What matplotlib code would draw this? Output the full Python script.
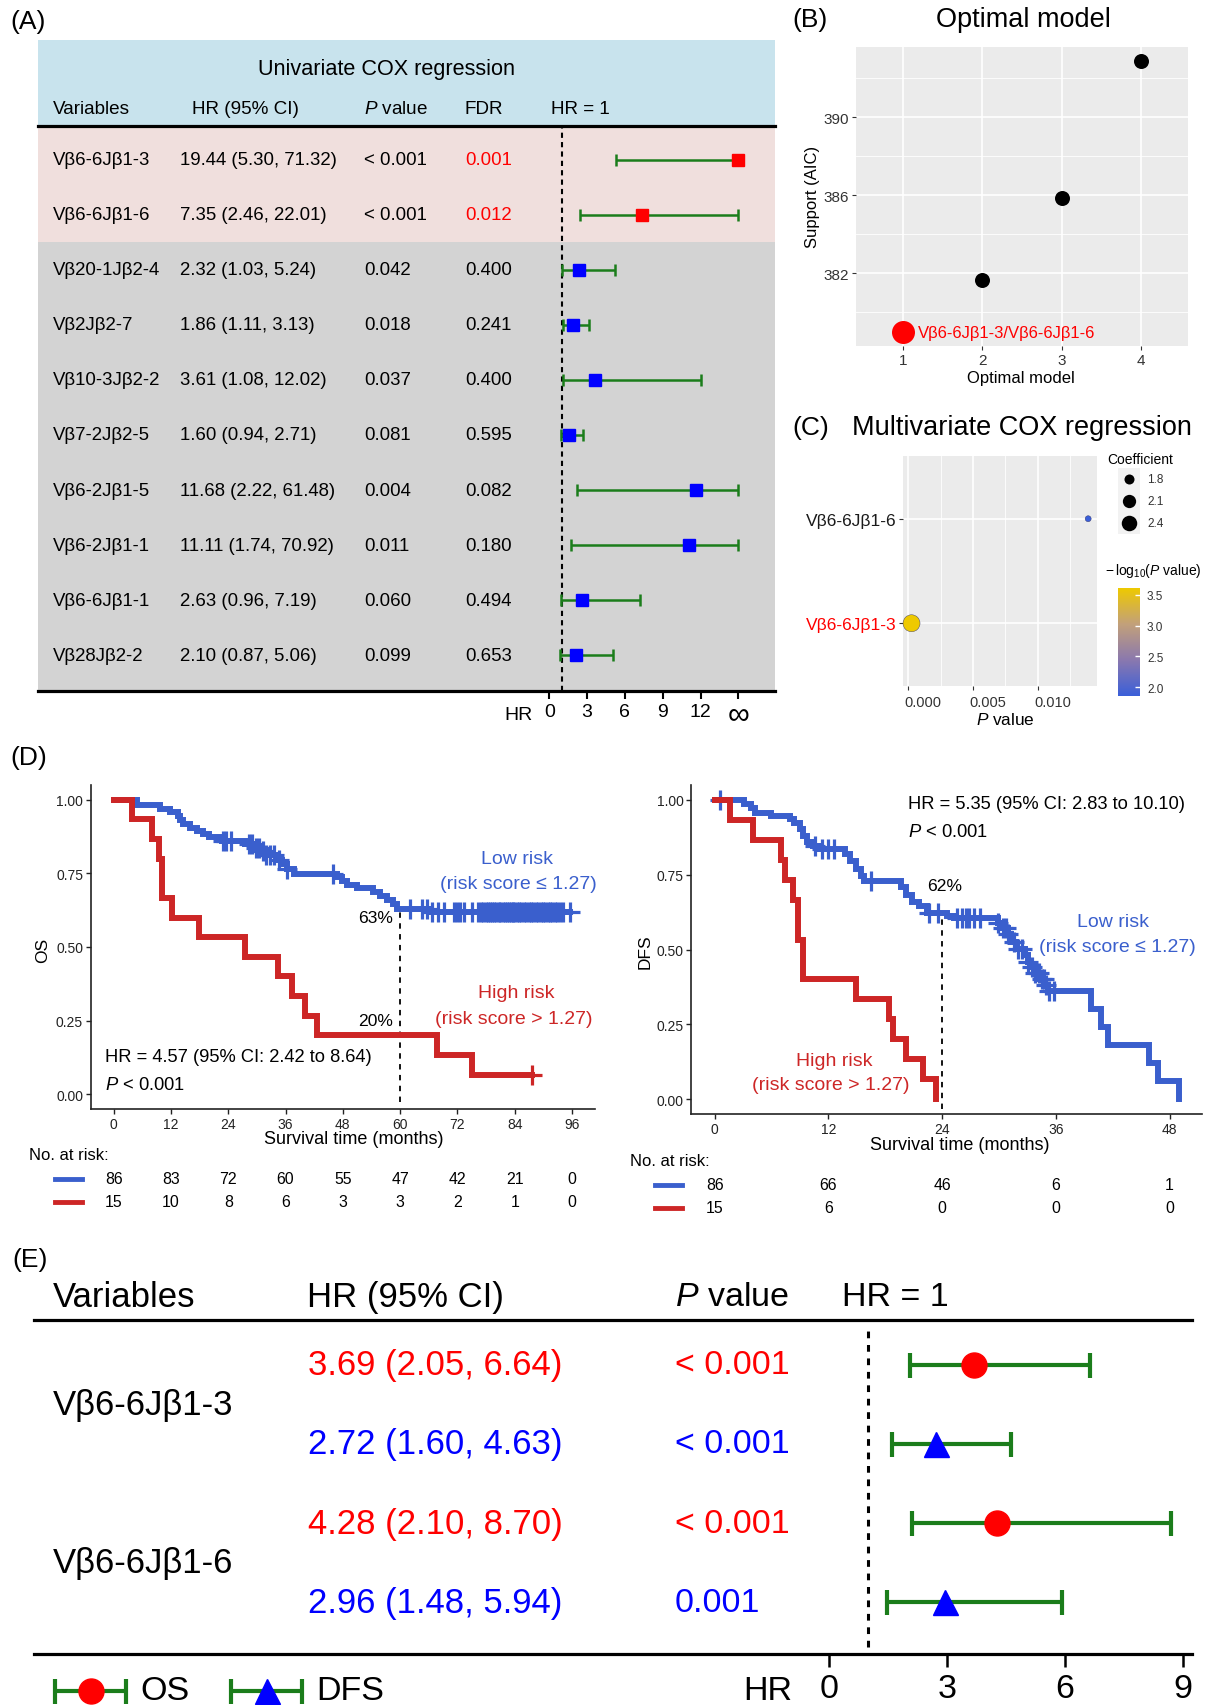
import numpy as np
import matplotlib
matplotlib.use('Agg')
import matplotlib.pyplot as plt
from matplotlib.colors import LinearSegmentedColormap, Normalize
from matplotlib.lines import Line2D
import matplotlib.transforms as mtransforms

plt.rcParams['font.family'] = ['Liberation Sans', 'DejaVu Sans']
plt.rcParams['mathtext.fontset'] = 'custom'
plt.rcParams['mathtext.rm'] = 'Liberation Sans'
plt.rcParams['mathtext.it'] = 'Liberation Sans:italic'
plt.rcParams['mathtext.bf'] = 'Liberation Sans:bold'

# ---------------- data ----------------
# (A) univariate Cox
a_vars = ['Vβ6-6Jβ1-3', 'Vβ6-6Jβ1-6', 'Vβ20-1Jβ2-4', 'Vβ2Jβ2-7', 'Vβ10-3Jβ2-2',
          'Vβ7-2Jβ2-5', 'Vβ6-2Jβ1-5', 'Vβ6-2Jβ1-1', 'Vβ6-6Jβ1-1', 'Vβ28Jβ2-2']
a_hr = [19.44, 7.35, 2.32, 1.86, 3.61, 1.60, 11.68, 11.11, 2.63, 2.10]
a_lo = [5.30, 2.46, 1.03, 1.11, 1.08, 0.94, 2.22, 1.74, 0.96, 0.87]
a_hi = [71.32, 22.01, 5.24, 3.13, 12.02, 2.71, 61.48, 70.92, 7.19, 5.06]
a_p = ['< 0.001', '< 0.001', '0.042', '0.018', '0.037', '0.081', '0.004', '0.011', '0.060', '0.099']
a_fdr = [0.001, 0.012, 0.400, 0.241, 0.400, 0.595, 0.082, 0.180, 0.494, 0.653]
a_ticks = [0, 3, 6, 9, 12, 15]
a_ticklabels = ['0', '3', '6', '9', '12', '∞']

# (B) optimal model
b_model = [1, 2, 3, 4]
b_aic = [378.95, 381.65, 385.84, 392.91]
b_label = 'Vβ6-6Jβ1-3/Vβ6-6Jβ1-6'

# (C) multivariate Cox
c_vars = ['Vβ6-6Jβ1-3', 'Vβ6-6Jβ1-6']
c_p = [0.000245, 0.0139]
c_coef = [2.65, 1.67]
c_xticks = [0.0, 0.005, 0.010]
c_xticklabels = ['0.000', '0.005', '0.010']
c_size_breaks = [1.8, 2.1, 2.4]
c_color_breaks = [2.0, 2.5, 3.0, 3.5]

# (D) Kaplan-Meier, OS
os_ticks = [0, 12, 24, 36, 48, 60, 72, 84, 96]
os_low_t = [0, 4.9, 9.8, 11.9, 13.4, 14.0, 14.6, 16.0, 17.4, 18.8, 19.9, 22.7, 27.5, 29.3, 30.7,
            31.7, 34.2, 35.2, 36.3, 37.7, 46.8, 47.8, 48.8, 50.9, 54.4, 55.8, 57.2, 58.6, 59.3, 66.0]
os_low_s = [1.0, 0.983, 0.970, 0.957, 0.944, 0.930, 0.917, 0.905, 0.895, 0.885, 0.874, 0.859, 0.848,
            0.836, 0.825, 0.813, 0.797, 0.781, 0.765, 0.749, 0.737, 0.724, 0.712, 0.700, 0.686,
            0.673, 0.660, 0.645, 0.630, 0.618]
os_low_c = [23.0, 23.5, 24.5, 28.3, 29.0, 29.8, 30.4, 31.2, 32.0, 32.8, 33.6, 34.6, 36.3, 46.0,
            62.0, 64.5, 65.6, 66.6, 68.0, 69.1, 71.2, 71.9, 72.6, 73.4, 75.0, 76.4, 76.9, 77.4,
            77.9, 78.3, 78.8, 79.2, 79.7, 80.1, 80.6, 81.0, 81.5, 81.9, 82.3, 82.8, 83.2, 83.6,
            83.9, 84.4, 84.9, 85.4, 85.9, 86.4, 86.9, 87.4, 87.9, 88.4, 88.9, 89.4, 89.9, 90.4,
            90.9, 91.4, 91.9, 92.4, 92.9, 93.4, 94.0, 95.5]
os_high_t = [0, 3.8, 8.0, 9.4, 10.1, 12.3, 17.8, 27.5, 34.5, 37.3, 40.1, 42.6, 67.7, 75.0]
os_high_s = [1.0, 0.933, 0.867, 0.800, 0.667, 0.600, 0.533, 0.467, 0.400, 0.333, 0.267, 0.200,
             0.133, 0.067]
os_high_c = [87.6]
os_risk_low = [86, 83, 72, 60, 55, 47, 42, 21, 0]
os_risk_high = [15, 10, 8, 6, 3, 3, 2, 1, 0]

# (D) Kaplan-Meier, DFS
dfs_ticks = [0, 12, 24, 36, 48]
dfs_low_t = [0, 3.1, 3.8, 4.3, 5.9, 7.9, 8.4, 9.0, 9.3, 9.7, 10.4, 11.0, 13.8, 14.3, 14.9, 15.4,
             15.8, 19.7, 20.2, 20.8, 21.6, 22.4, 24.5, 25.2, 29.9, 30.2, 30.9, 31.3, 31.8, 32.7,
             33.1, 33.4, 33.8, 34.3, 34.9, 35.2, 39.7, 40.8, 41.5, 45.8, 46.8, 49.0]
dfs_low_s = [1.0, 0.986, 0.972, 0.958, 0.947, 0.936, 0.924, 0.903, 0.880, 0.858, 0.846, 0.835,
             0.820, 0.797, 0.770, 0.745, 0.730, 0.708, 0.683, 0.660, 0.645, 0.622, 0.612, 0.605,
             0.590, 0.573, 0.551, 0.525, 0.502, 0.480, 0.458, 0.440, 0.422, 0.400, 0.380, 0.362,
             0.300, 0.240, 0.180, 0.122, 0.060, 0.0]
dfs_low_c = [0.6, 10.6, 11.3, 12.0, 12.6, 16.5, 22.6, 23.6, 25.6, 26.1, 26.5, 26.8, 27.4, 28.0,
             29.9, 30.4, 30.7, 31.0, 31.6, 32.0, 32.4, 33.1, 33.5, 33.8, 34.2, 34.5, 34.7, 35.0,
             35.3, 35.8]
dfs_high_t = [0, 1.65, 4.0, 7.0, 7.4, 8.3, 8.8, 9.3, 14.9, 18.4, 18.8, 20.2, 22.0, 23.4]
dfs_high_s = [1.0, 0.933, 0.867, 0.800, 0.733, 0.667, 0.533, 0.400, 0.333, 0.267, 0.200, 0.133,
              0.067, 0.0]
dfs_high_c = []
dfs_risk_low = [86, 66, 46, 6, 1]
dfs_risk_high = [15, 6, 0, 0, 0]

# (E) Cox for OS / DFS
e_vars = ['Vβ6-6Jβ1-3', 'Vβ6-6Jβ1-6']
e_endpoint = ['OS', 'DFS', 'OS', 'DFS']
e_hr = [3.69, 2.72, 4.28, 2.96]
e_lo = [2.05, 1.60, 2.10, 1.48]
e_hi = [6.64, 4.63, 8.70, 5.94]
e_p = ['< 0.001', '< 0.001', '< 0.001', '0.001']
e_ticks = [0, 3, 6, 9]

# ---------------- figure helpers ----------------
W, H = 1210, 1706
DPI = 100
fig = plt.figure(figsize=(W / DPI, H / DPI), dpi=DPI)
PX = 72.0 / DPI  # points per pixel


def pax(x0, y0, x1, y1):
    return fig.add_axes([x0 / W, 1 - y1 / H, (x1 - x0) / W, (y1 - y0) / H])


def ftext(x, y, s, **kw):
    kw.setdefault('va', 'center')
    return fig.text(x / W, 1 - y / H, s, **kw)


def fline(x0, x1, y, **kw):
    fig.add_artist(Line2D([x0 / W, x1 / W], [1 - y / H, 1 - y / H],
                          transform=fig.transFigure, **kw))


RED = '#FF0000'
BLUE = '#0000FF'
GREEN = '#1B7D1B'
KM_BLUE = '#3A5FCD'
KM_RED = '#CD2626'
LBL = 19

# ---------------- (A) ----------------
ftext(10, 22, '(A)', fontsize=LBL)
row0, rowd = 160.5, 55.1


def rowpos(y):
    return (y - row0) / rowd


ta = pax(37.5, 40.7, 775, 691.7)
ta.set_xlim(37.5, 775)
ta.set_ylim(rowpos(691.7), rowpos(40.7))
ta.axis('off')
n_sig = sum(1 for f in a_fdr if f < 0.05)
ta.axhspan(rowpos(40.7), rowpos(126.7), color='#C8E3ED', lw=0)
ta.axhspan(rowpos(126.7), n_sig - 0.5, color='#F0DFDD', lw=0)
ta.axhspan(n_sig - 0.5, rowpos(691.7), color='#D3D3D3', lw=0)
ta.axhline(rowpos(126.7), color='black', lw=2.3, clip_on=False)
ta.axhline(rowpos(691.7), color='black', lw=2.3, clip_on=False)
ta.text(386, rowpos(70), 'Univariate COX regression', ha='center', va='center', fontsize=15.6)
hy = rowpos(110)
HFS = 13.6
ta.text(52.5, hy, 'Variables', va='center', fontsize=HFS)
ta.text(192, hy, 'HR (95% CI)', va='center', fontsize=HFS)
ta.text(364, hy, '$P$ value', va='center', fontsize=HFS)
ta.text(465, hy, 'FDR', va='center', fontsize=HFS)
ta.text(551, hy, 'HR = 1', va='center', fontsize=HFS)
DFS_ = 13.4
for i in range(len(a_vars)):
    ta.text(52.5, i, a_vars[i], va='center', fontsize=DFS_)
    ta.text(180, i, f'{a_hr[i]:.2f} ({a_lo[i]:.2f}, {a_hi[i]:.2f})', va='center', fontsize=DFS_)
    ta.text(364, i, a_p[i], va='center', fontsize=DFS_)
    ta.text(465, i, f'{a_fdr[i]:.3f}', va='center', fontsize=DFS_,
            color=RED if a_fdr[i] < 0.05 else 'black')

fa = pax(520, 126.7, 775, 691.7)
fa.set_facecolor('none')
fa.set_xlim((520 - 549.3) / 12.6, (775 - 549.3) / 12.6)
fa.set_ylim(rowpos(691.7), rowpos(126.7))
for s in fa.spines.values():
    s.set_visible(False)
fa.set_yticks([])
fa.set_xticks(a_ticks)
fa.set_xticklabels([lab if lab != '∞' else '' for lab in a_ticklabels], fontsize=14)
fa.tick_params(axis='x', direction='out', length=6, width=1.5, pad=3)
trA = mtransforms.blended_transform_factory(fa.transData, fig.transFigure)
for t, lab in zip(a_ticks, a_ticklabels):
    if lab == '∞':
        fa.text(t, 1 - 723 / H, lab, transform=trA, ha='center', va='baseline', fontsize=22)
fa.axvline(1, color='black', lw=1.5, dashes=(2.5, 2))
INF = a_ticks[-1]
for i in range(len(a_vars)):
    x = min(a_hr[i], INF)
    lo = a_lo[i]
    hi = min(a_hi[i], INF)
    col = RED if a_fdr[i] < 0.05 else BLUE
    fa.errorbar(x, i, xerr=[[x - lo], [hi - x]], fmt='none', ecolor=GREEN,
                elinewidth=1.8, capsize=4.3, capthick=1.8, zorder=2)
    fa.plot(x, i, 's', ms=8.8, color=col, mec=col, zorder=3, clip_on=False)
ftext(518, 715, 'HR', ha='center', fontsize=14)

# ---------------- (B) ----------------
ftext(792, 20, '(B)', fontsize=LBL)
ftext(1023, 20, 'Optimal model', ha='center', fontsize=19.5)
bx = pax(856, 48, 1188, 347)
bx.set_facecolor('#EBEBEB')
for s in bx.spines.values():
    s.set_visible(False)
bx.set_xlim(0.4, 4.6)
rng = max(b_aic) - min(b_aic)
bx.set_ylim(min(b_aic) - 0.05 * rng, max(b_aic) + 0.05 * rng)
bx.set_xticks(b_model)
bx.set_yticks([382, 386, 390])
bx.set_yticks([380, 384, 388, 392], minor=True)
bx.grid(True, which='major', color='white', lw=1.2)
bx.grid(True, which='minor', axis='y', color='white', lw=0.6)
bx.set_axisbelow(True)
bx.tick_params(which='major', length=2.75, width=0.8, color='#333333', labelsize=11,
               labelcolor='#333333', pad=2)
bx.tick_params(which='minor', length=0)
best = int(np.argmin(b_aic))
for i in range(len(b_model)):
    if i == best:
        bx.scatter(b_model[i], b_aic[i], s=(23 * PX) ** 2, color=RED, zorder=3, lw=0)
        bx.annotate(b_label, (b_model[i], b_aic[i]), xytext=(10.5, 0), textcoords='offset points',
                    color=RED, fontsize=12, va='center', ha='left')
    else:
        bx.scatter(b_model[i], b_aic[i], s=(15 * PX) ** 2, color='black', zorder=3, lw=0)
ftext(1021, 378, 'Optimal model', ha='center', fontsize=12)
ftext(813, 197, 'Support (AIC)', ha='center', rotation=90, fontsize=12)

# ---------------- (C) ----------------
ftext(792, 428, '(C)', fontsize=LBL)
ftext(852, 428, 'Multivariate COX regression', fontsize=19.5)
cx = pax(902.7, 457, 1097, 687)
cx.set_facecolor('#EBEBEB')
for s in cx.spines.values():
    s.set_visible(False)
pr = max(c_p) - min(c_p)
cx.set_xlim(min(c_p) - 0.05 * pr, max(c_p) + 0.05 * pr)
cx.set_ylim(-0.6, len(c_vars) - 0.4)
cx.set_xticks(c_xticks)
cx.set_xticklabels([])
cx.set_xticks([0.0025, 0.0075, 0.0125], minor=True)
cx.set_yticks(range(len(c_vars)))
cx.set_yticklabels(c_vars)
cx.grid(True, which='major', color='white', lw=1.2)
cx.grid(True, which='minor', axis='x', color='white', lw=0.6)
cx.set_axisbelow(True)
cx.tick_params(which='major', length=2.75, width=0.8, color='#333333', pad=2)
cx.tick_params(axis='y', labelsize=12.5)
cx.tick_params(which='minor', length=0)
for lab, col in zip(cx.get_yticklabels(), [RED, '#1A1A1A']):
    lab.set_color(col)
for v, lab in zip(c_xticks, c_xticklabels):
    cx.annotate(lab, (v, -(702.7 - 687) / 230), xycoords=cx.get_xaxis_transform(),
                xytext=(-2.7, 0), textcoords='offset points', ha='left', va='center',
                fontsize=10.5, color='#333333', annotation_clip=False)

nlp = -np.log10(np.array(c_p))
cmap = LinearSegmentedColormap.from_list('bg', ['#3A5FD9', '#8A78AE', '#C2A07A', '#EEC900'])
norm = Normalize(nlp.min(), nlp.max())
cmin, cmax = min(c_coef), max(c_coef)


def coef_d(c):
    return 6 + 11 * np.sqrt((c - cmin) / (cmax - cmin))


sc = cx.scatter(c_p, range(len(c_vars)), s=[(coef_d(c) * PX) ** 2 for c in c_coef], c=nlp,
                cmap=cmap, norm=norm, zorder=3, edgecolors='#333366', linewidths=0.3,
                clip_on=False)
ftext(1005, 720, '$P$ value', ha='center', fontsize=12.4)

# size legend
ftext(1107, 460, 'Coefficient', fontsize=10)
lg = pax(1118, 469, 1140, 535)
lg.set_facecolor('#F2F2F2')
lg.set_xlim(0, 1)
lg.set_ylim(len(c_size_breaks), 0)
lg.set_xticks([])
lg.set_yticks([])
for s in lg.spines.values():
    s.set_visible(False)
for k, v in enumerate(c_size_breaks):
    lg.scatter(0.5, k + 0.5, s=(coef_d(v) * PX) ** 2, color='black', lw=0)
    ftext(1147, 480 + 22 * k, f'{v:.1f}', fontsize=8.5, color='#333333')

# colorbar
ftext(1105, 571, r'$-\,\mathrm{log}_{10}(P\ \mathrm{value})$', fontsize=10)
cax = pax(1118, 589, 1140, 697)
cb = fig.colorbar(sc, cax=cax, ticks=c_color_breaks)
cb.outline.set_visible(False)
cb.set_ticklabels([f'{v:.1f}' for v in c_color_breaks])
cax.tick_params(length=3.5, color='white', width=1, labelsize=8.5, direction='in', pad=5,
                labelcolor='#333333')

# ---------------- (D) ----------------
ftext(10, 758, '(D)', fontsize=LBL)


def surv_at(ts, ss, t):
    idx = np.searchsorted(ts, t, side='right') - 1
    return np.array(ss)[idx]


def draw_km(ax, ts, ss, cs, color):
    end = max([ts[-1]] + list(cs))
    ax.step(list(ts) + [end], list(ss) + [ss[-1]], where='post', color=color, lw=4.3,
            solid_joinstyle='miter', zorder=3)
    if len(cs):
        ax.plot(cs, surv_at(ts, ss, cs), '+', color=color, ms=14.5, mew=2.3, zorder=3)


def km_axes(x0, y0, x1, y1, ticks):
    ax = pax(x0, y0, x1, y1)
    ax.set_ylim(-0.05, 1.05)
    ax.spines['top'].set_visible(False)
    ax.spines['right'].set_visible(False)
    for s in ['left', 'bottom']:
        ax.spines[s].set_linewidth(1.2)
        ax.spines[s].set_color('#222222')
    ax.set_xticks(ticks)
    ax.set_xticklabels([str(t) for t in ticks])
    ax.set_yticks([0, 0.25, 0.5, 0.75, 1.0])
    ax.set_yticklabels(['0.00', '0.25', '0.50', '0.75', '1.00'])
    ax.tick_params(labelsize=10, length=3.5, width=1, pad=2, colors='#222222')
    return ax


# left: OS
axL = km_axes(90.7, 786, 595, 1110, os_ticks)
axL.set_xlim(-0.05 * os_ticks[-1], os_ticks[-1] * 1.05)
draw_km(axL, os_low_t, os_low_s, os_low_c, KM_BLUE)
draw_km(axL, os_high_t, os_high_s, os_high_c, KM_RED)
s60_low = surv_at(os_low_t, os_low_s, 60)
s60_high = surv_at(os_high_t, os_high_s, 60)
axL.plot([60, 60], [-0.025, s60_low], color='black', lw=1.3, dashes=(3, 3), zorder=2)
ftext(393, 919, f'{round(s60_low * 100):d}%', ha='right', fontsize=12.6)
ftext(393, 1021.7, f'{round(s60_high * 100):d}%', ha='right', fontsize=12.6)
ftext(517, 860, 'Low risk', ha='center', color=KM_BLUE, fontsize=14)
ftext(518, 885, '(risk score ≤ 1.27)', ha='center', color=KM_BLUE, fontsize=14)
ftext(516.5, 994, 'High risk', ha='center', color=KM_RED, fontsize=14)
ftext(514, 1020, '(risk score > 1.27)', ha='center', color=KM_RED, fontsize=14)
ftext(105, 1058, 'HR = 4.57 (95% CI: 2.42 to 8.64)', fontsize=13.2)
ftext(105, 1085, '$P$ < 0.001', fontsize=13.2)
ftext(354, 1140, 'Survival time (months)', ha='center', fontsize=13)
ftext(43, 950, 'OS', ha='center', rotation=90, fontsize=12.5)
ftext(29, 1155, 'No. at risk:', fontsize=12)
fline(55, 82, 1180, color=KM_BLUE, lw=3.5)
fline(55, 82, 1203, color=KM_RED, lw=3.5)
trL = mtransforms.blended_transform_factory(axL.transData, fig.transFigure)
for t, nl, nh in zip(os_ticks, os_risk_low, os_risk_high):
    axL.text(t, 1 - 1180 / H, str(nl), transform=trL, ha='center', va='center', fontsize=11.4)
    axL.text(t, 1 - 1203 / H, str(nh), transform=trL, ha='center', va='center', fontsize=11.4)

# right: DFS
axR = km_axes(691.5, 786, 1202.3, 1115, dfs_ticks)
xmax_dfs = max(dfs_low_t[-1], dfs_high_t[-1])
axR.set_xlim(-0.05 * xmax_dfs, xmax_dfs * 1.05)
draw_km(axR, dfs_low_t, dfs_low_s, dfs_low_c, KM_BLUE)
draw_km(axR, dfs_high_t, dfs_high_s, dfs_high_c, KM_RED)
s24_low = surv_at(dfs_low_t, dfs_low_s, 24)
axR.plot([24, 24], [-0.033, s24_low], color='black', lw=1.3, dashes=(3, 3), zorder=2)
ftext(945, 887, f'{round(s24_low * 100):d}%', ha='center', fontsize=12.6)
ftext(1113, 922.7, 'Low risk', ha='center', color=KM_BLUE, fontsize=14)
ftext(1117, 947.7, '(risk score ≤ 1.27)', ha='center', color=KM_BLUE, fontsize=14)
ftext(834, 1061.7, 'High risk', ha='center', color=KM_RED, fontsize=14)
ftext(831, 1086, '(risk score > 1.27)', ha='center', color=KM_RED, fontsize=14)
ftext(908, 805, 'HR = 5.35 (95% CI: 2.83 to 10.10)', fontsize=13.2)
ftext(908, 833, '$P$ < 0.001', fontsize=13.2)
ftext(960, 1145, 'Survival time (months)', ha='center', fontsize=13)
ftext(645, 951.7, 'DFS', ha='center', rotation=90, fontsize=12.5)
ftext(630, 1161.7, 'No. at risk:', fontsize=12)
fline(655, 682, 1186, color=KM_BLUE, lw=3.5)
fline(655, 682, 1209, color=KM_RED, lw=3.5)
trR = mtransforms.blended_transform_factory(axR.transData, fig.transFigure)
for t, nl, nh in zip(dfs_ticks, dfs_risk_low, dfs_risk_high):
    axR.text(t, 1 - 1186 / H, str(nl), transform=trR, ha='center', va='center', fontsize=11.4)
    axR.text(t, 1 - 1209 / H, str(nh), transform=trR, ha='center', va='center', fontsize=11.4)

# ---------------- (E) ----------------
ftext(12, 1260, '(E)', fontsize=LBL)
E_FS = 25
ftext(52.7, 1298, 'Variables', fontsize=E_FS)
ftext(306.7, 1298, 'HR (95% CI)', fontsize=E_FS)
ftext(675, 1298, '$P$ value', fontsize=24.5)
ftext(841.7, 1298, 'HR = 1', fontsize=24.5)
fline(34, 1192, 1321, color='black', lw=2.3)
fline(34, 1192, 1655, color='black', lw=2.3)

erow0, erowd = 1365.7, 79.2


def erow(y):
    return (y - erow0) / erowd


et = pax(0, 1321, 760, 1655)
et.set_xlim(0, 760)
et.set_ylim(erow(1655), erow(1321))
et.axis('off')
for k, v in enumerate(e_vars):
    et.text(52.7, 2 * k + 0.5, v, va='center', fontsize=E_FS)
for i in range(len(e_hr)):
    col = RED if e_endpoint[i] == 'OS' else BLUE
    et.text(308, i, f'{e_hr[i]:.2f} ({e_lo[i]:.2f}, {e_hi[i]:.2f})', va='center',
            fontsize=25, color=col)
    et.text(675, i, e_p[i], va='center', fontsize=24.5, color=col)

fe = pax(760, 1321, 1192, 1655)
fe.set_facecolor('none')
fe.set_xlim((760 - 829) / 39.3, (1192 - 829) / 39.3)
fe.set_ylim(erow(1655), erow(1321))
for s in fe.spines.values():
    s.set_visible(False)
fe.set_yticks([])
fe.set_xticks(e_ticks)
fe.set_xticklabels([str(t) for t in e_ticks], fontsize=24.5)
fe.tick_params(axis='x', direction='out', length=9.4, width=1.8, pad=4)
fe.axvline(1, ymin=0.02, ymax=0.98, color='black', lw=2.2, dashes=(2.2, 2.2))
for i in range(len(e_hr)):
    col = RED if e_endpoint[i] == 'OS' else BLUE
    mk = 'o' if e_endpoint[i] == 'OS' else '^'
    fe.errorbar(e_hr[i], i, xerr=[[e_hr[i] - e_lo[i]], [e_hi[i] - e_hr[i]]], fmt='none',
                ecolor=GREEN, elinewidth=3, capsize=9, capthick=3, zorder=2)
    fe.plot(e_hr[i], i, mk, ms=18, color=col, mec=col, zorder=3)
ftext(768, 1691.7, 'HR', ha='center', fontsize=24.5)

# legend for (E)
lgE = pax(0, 1668, 600, 1706)
lgE.set_xlim(0, 600)
lgE.set_ylim(1706, 1668)
lgE.axis('off')
for cx0, cx1, mk, col, lab in [(55, 126, 'o', RED, 'OS'), (231, 302, '^', BLUE, 'DFS')]:
    mid = (cx0 + cx1) / 2
    lgE.errorbar(mid, 1691.7, xerr=(cx1 - cx0) / 2, fmt='none', ecolor=GREEN, elinewidth=3,
                 capsize=9, capthick=3, clip_on=False)
    lgE.plot(mid, 1691.7, mk, ms=18, color=col, mec=col, clip_on=False)
    lgE.text(cx1 + 14, 1691.7, lab, va='center', fontsize=24.5, clip_on=False)

fig.savefig('out.png', dpi=DPI)
